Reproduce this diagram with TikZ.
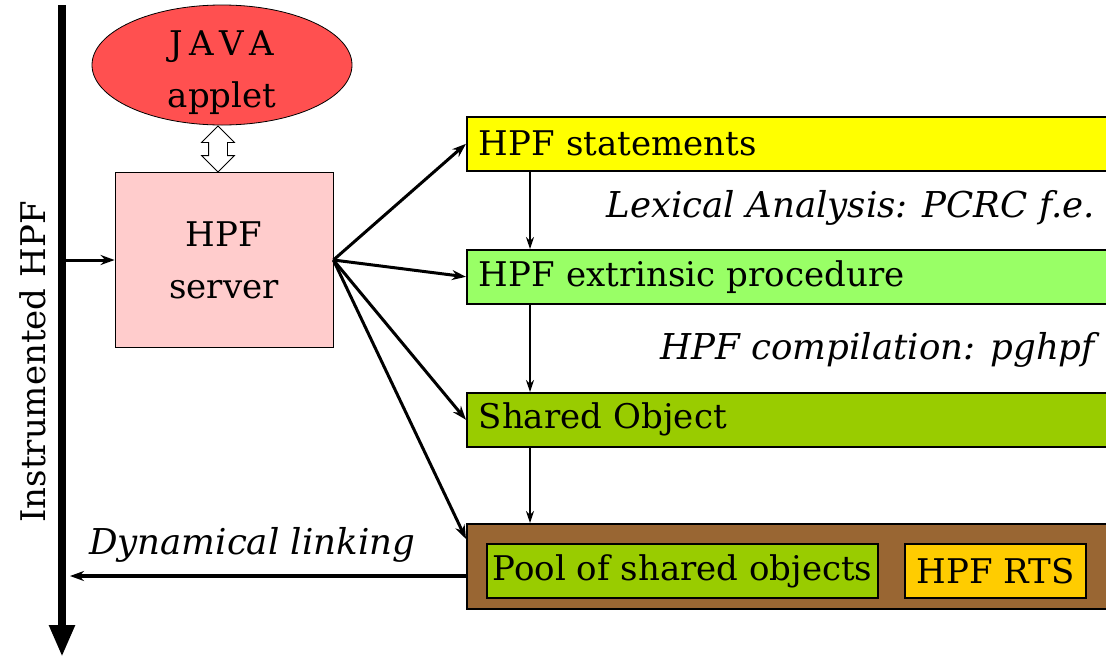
\documentclass[tikz,border=0pt]{standalone}
\usepackage{fontspec}
\setmainfont{DejaVu Serif}
\usetikzlibrary{shapes.geometric,shapes.arrows,arrows.meta}

\definecolor{javared}{HTML}{FF5050}
\definecolor{serverpink}{HTML}{FFCCCC}
\definecolor{stmtyellow}{HTML}{FFFF00}
\definecolor{extgreen}{HTML}{99FF66}
\definecolor{objgreen}{HTML}{99CC00}
\definecolor{poolbrown}{HTML}{996633}
\definecolor{rtsorange}{HTML}{FFCC00}

\begin{document}
\begin{tikzpicture}[x=0.5pt, y=-0.5pt, font=\fontsize{17}{24}\selectfont,
    box/.style={draw, line width=0.8pt, anchor=north west, inner xsep=6pt, inner ysep=0pt,
        text width=313pt, minimum height=27pt, align=left},
    inbox/.style={draw, line width=0.8pt, minimum height=27pt, inner sep=0pt},
    lbl/.style={font=\fontsize{17.8}{24}\selectfont\itshape},
    link/.style={-{Stealth[length=7pt,width=5pt]}, line width=1.5pt},
    down/.style={-{Stealth[length=6pt,width=4pt]}, line width=0.7pt}]
    \useasboundingbox (0,0) rectangle (1106,659);

    \coordinate (axtop) at (62,5);
    \coordinate (axbot) at (62,657);
    \coordinate (tap) at (62,260);
    \coordinate (linkend) at (70,576);
    \coordinate (col) at (530,0);

    \draw[line width=4pt, -{Triangle[length=16pt,width=12pt]}] (axtop) -- (axbot);
    \node[rotate=90] (instr) at (33,362) {Instrumented HPF};

    \node[ellipse, draw, fill=javared, minimum width=130pt, minimum height=60pt,
        inner sep=0pt, align=center] (java) at (222,65) {};
    \node[align=center] (javatext) at (222,73) {J\,A\,V\,A\\[2pt]applet};
    \node[draw, fill=serverpink, minimum width=109pt, minimum height=87.5pt,
        align=center] (server) at (224,260) {HPF\\[2pt]server};
    \node[double arrow, draw, fill=white, rotate=90, minimum height=23pt, inner sep=4.5pt,
        double arrow head extend=3.5pt] (dual) at (218,149) {};

    \node[box, fill=stmtyellow] (stmt) at (466,116) {HPF statements};
    \node[box, fill=extgreen] (ext) at (466,249) {HPF extrinsic procedure};
    \node[box, fill=objgreen] (obj) at (466,392) {Shared Object};
    \node[box, fill=poolbrown, minimum height=42.5pt] (rt) at (466,523) {};
    \node[inbox, fill=objgreen, minimum width=195.5pt] (pool) at (682.5,571) {Pool of shared objects};
    \node[inbox, fill=rtsorange, minimum width=90.5pt] (rts) at (995.5,571) {HPF RTS};

    \node[lbl, anchor=east] (lex) at (1102,208) {Lexical Analysis: PCRC f.e.};
    \node[lbl, anchor=east] (comp) at (1102,350) {HPF compilation: pghpf};
    \node[lbl, anchor=west] (dyn) at (82,545) {Dynamical linking};

    \draw[link] (tap) -- (server.west);
    \draw[link] (server.east) -- (stmt.west);
    \draw[link] (server.east) -- (ext.west);
    \draw[link] (server.east) -- (obj.west);
    \draw[link] (server.east) -- ([yshift=-8pt]rt.north west);
    \draw[down] (stmt.south -| col) -- (ext.north -| col);
    \draw[down] (ext.south -| col) -- (obj.north -| col);
    \draw[down] (obj.south -| col) -- (rt.north -| col);
    \draw[link, line width=2pt] (rt.west |- linkend) -- (linkend);

\end{tikzpicture}
\end{document}
